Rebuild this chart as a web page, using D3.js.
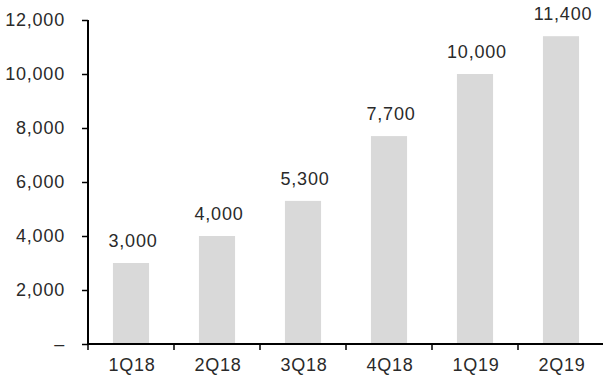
<!DOCTYPE html>
<html>
<head>
<meta charset="utf-8">
<script src="https://cdn.jsdelivr.net/npm/d3@7"></script>
<style>
  html, body { margin: 0; padding: 0; background: #fff; }
  svg text { font-family: "Liberation Sans", Arial, sans-serif; fill: #2a2a2a; }
</style>
</head>
<body>
<svg id="chart" width="603" height="381"></svg>
<script>
// Quarterly values
const quarters = ["1Q18", "2Q18", "3Q18", "4Q18", "1Q19", "2Q19"];
const values = [3000, 4000, 5300, 7700, 10000, 11400];
const yTicks = [0, 2000, 4000, 6000, 8000, 10000, 12000];

const svg = d3.select("#chart");
const margin = { left: 88, right: 0, top: 20, bottom: 37 };
const W = 603, H = 381;
const fontSize = "18px", spacing = "0.8px";

const x = d3.scaleBand()
  .domain(quarters)
  .range([margin.left, margin.left + 86 * quarters.length])
  .paddingInner(0.58)
  .paddingOuter(0.29);

const y = d3.scaleLinear()
  .domain([0, 12000])
  .range([H - margin.bottom, margin.top]);

// Bars
svg.append("g")
  .selectAll("rect")
  .data(values)
  .join("rect")
  .attr("x", (d, i) => x(quarters[i]))
  .attr("y", d => y(d))
  .attr("width", x.bandwidth())
  .attr("height", d => y(0) - y(d))
  .attr("fill", "#d9d9d9");

// Value labels
svg.append("g")
  .selectAll("text")
  .data(values)
  .join("text")
  .attr("x", (d, i) => x(quarters[i]) + x.bandwidth() / 2 + 2)
  .attr("y", d => y(d) - 16)
  .attr("text-anchor", "middle")
  .style("font-size", fontSize)
  .style("letter-spacing", spacing)
  .text(d => d3.format(",")(d));

// Y axis
const yAxis = d3.axisLeft(y)
  .tickValues(yTicks)
  .tickSize(6)
  .tickPadding(17)
  .tickFormat(d => d === 0 ? "–" : d3.format(",")(d));

const gy = svg.append("g")
  .attr("transform", `translate(${margin.left},0)`)
  .call(yAxis);
gy.select(".domain").attr("stroke", "#000").attr("stroke-width", 2)
  .attr("d", `M0,${y(12000)}V${y(0)}`);
gy.selectAll(".tick line").attr("stroke", "#000").attr("stroke-width", 1.5);
gy.selectAll(".tick text")
  .style("font-size", fontSize)
  .style("letter-spacing", spacing);

// X axis with ticks at category boundaries
const gx = svg.append("g")
  .attr("transform", `translate(0,${y(0)})`);
gx.append("line")
  .attr("x1", margin.left).attr("x2", W)
  .attr("stroke", "#000").attr("stroke-width", 2);
gx.selectAll(".bound")
  .data(quarters)
  .join("line")
  .attr("class", "bound")
  .attr("x1", d => x(d) - x.step() * x.paddingOuter())
  .attr("x2", d => x(d) - x.step() * x.paddingOuter())
  .attr("y1", 0).attr("y2", 6)
  .attr("stroke", "#000").attr("stroke-width", 1.5);
gx.selectAll(".lbl")
  .data(quarters)
  .join("text")
  .attr("class", "lbl")
  .attr("x", d => x(d) + x.bandwidth() / 2 + 1)
  .attr("y", 27)
  .attr("text-anchor", "middle")
  .style("font-size", fontSize)
  .style("letter-spacing", spacing)
  .text(d => d);
</script>
</body>
</html>
